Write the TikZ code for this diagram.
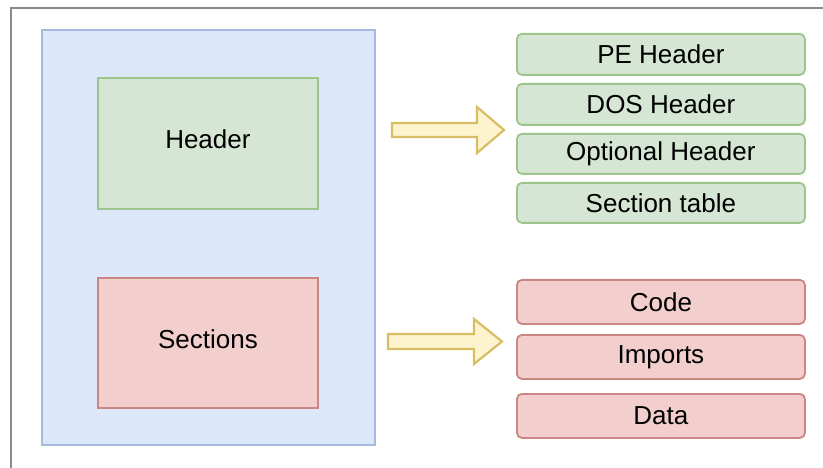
\documentclass[tikz,border=0pt]{standalone}
\usepackage{fontspec}
\setmainfont{Liberation Sans}
\definecolor{bluefill}{HTML}{DCE7F9}
\definecolor{bluedraw}{HTML}{A5BADD}
\definecolor{greenfill}{HTML}{D6E6D4}
\definecolor{greendraw}{HTML}{9DC48C}
\definecolor{redfill}{HTML}{F2CFCD}
\definecolor{reddraw}{HTML}{C98682}
\definecolor{yelfill}{HTML}{FDF3CF}
\definecolor{yeldraw}{HTML}{D8BD62}
\definecolor{framegray}{HTML}{8A8A8A}
\begin{document}
\begin{tikzpicture}[x=1pt,y=-1pt,
  every node/.style={font=\fontsize{26}{30}\selectfont, text=black, inner sep=0pt},
  bigbox/.style={draw=#1draw, fill=#1fill, line width=1.8pt, anchor=north west},
  item/.style={draw=#1draw, fill=#1fill, line width=1.8pt, rounded corners=5pt, anchor=north west, minimum width=288pt},
  blockarrow/.style={draw=yeldraw, fill=yelfill, line width=2.2pt, line join=miter}]
\useasboundingbox (0,0) rectangle (823,468);
\begin{scope}
\clip (0,0) rectangle (823,468);
\draw[framegray, line width=2.2pt] (11,480) -- (11,8) -- (840,8);
\end{scope}
% container
\node[bigbox=blue, minimum width=333pt, minimum height=415pt] (file) at (41,29) {};
\node[bigbox=green, minimum width=220pt, minimum height=131pt] (header) at (97,77) {};
\node at ([yshift=4pt]header.center) {Header};
\node[bigbox=red, minimum width=220pt, minimum height=130pt] (sections) at (97,277) {};
\node at ([yshift=4pt]sections.center) {Sections};
% header items
\node[item=green, minimum height=41pt] (pe) at (516,33) {};
\node at (pe.center) {PE Header};
\node[item=green, minimum height=41pt] (dos) at (516,83) {};
\node at (dos.center) {DOS Header};
\node[item=green, minimum height=40pt] (opt) at (516,133) {};
\node at (opt.center) {Optional Header};
\node[item=green, minimum height=40pt] (sect) at (516,182) {};
\node at (sect.center) {Section table};
% section items
\node[item=red, minimum height=44pt] (code) at (516,279) {};
\node at (code.center) {Code};
\node[item=red, minimum height=44pt] (imp) at (516,334) {};
\node at (imp.center) {Imports};
\node[item=red, minimum height=44pt] (data) at (516,393) {};
\node at (data.center) {Data};
% block arrows
\coordinate (a1) at (392,130);
\draw[blockarrow] (a1) ++(0,-7) -- ++(85,0) -- ++(0,-16) -- (504,130) -- (477,153) -- (477,137) -- (392,137) -- cycle;
\coordinate (a2) at (388,341.5);
\draw[blockarrow] (a2) ++(0,-7.5) -- ++(86,0) -- ++(0,-15) -- (502,341.5) -- (474,364) -- (474,349) -- (388,349) -- cycle;
\end{tikzpicture}
\end{document}
